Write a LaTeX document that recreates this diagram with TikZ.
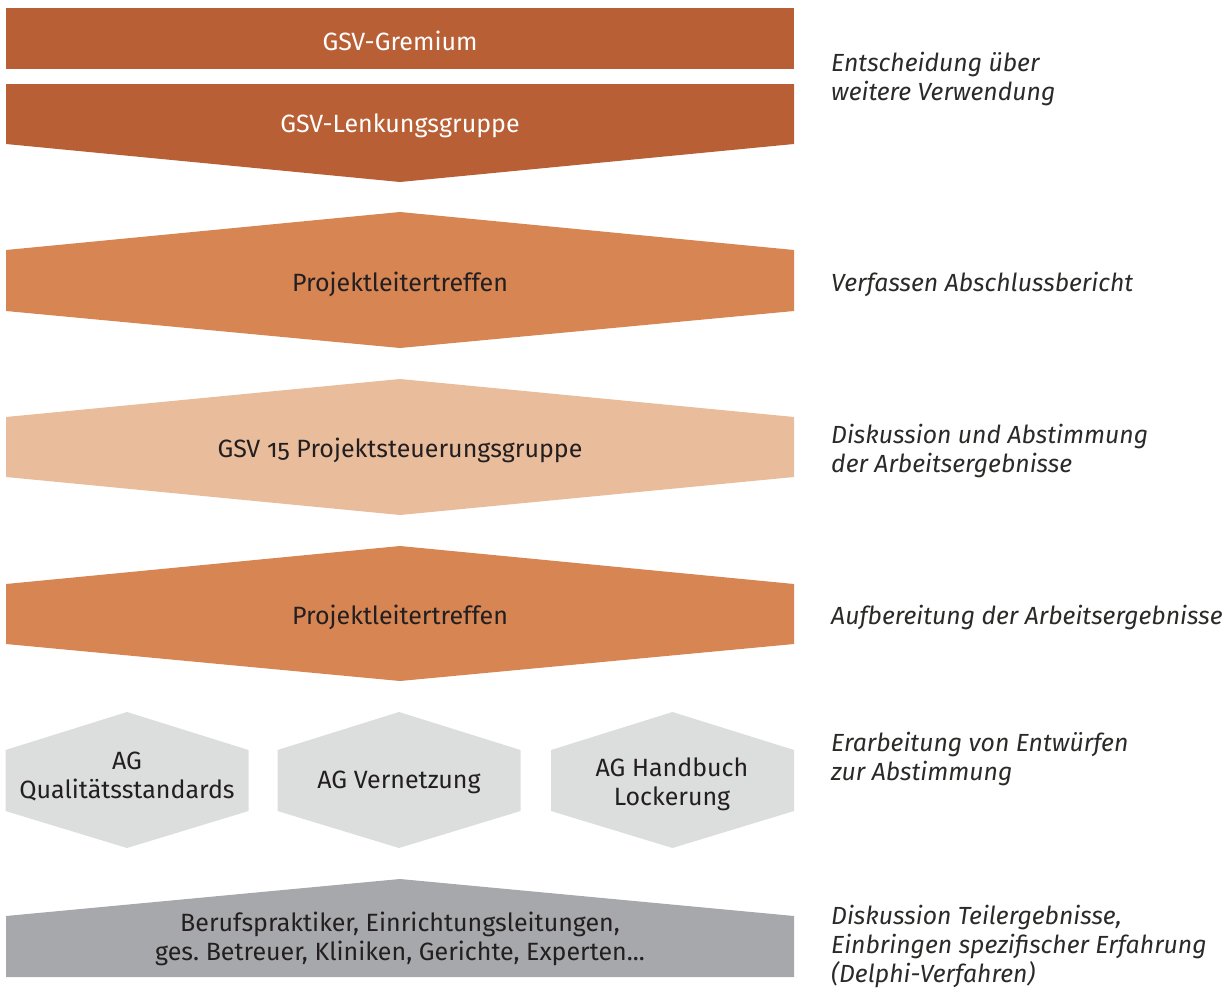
\documentclass[tikz,border=0pt]{standalone}
\usepackage{fontspec}
\setmainfont[Numbers=OldStyle]{Fira Sans}
\frenchspacing
\definecolor{cDark}{HTML}{B85F35}
\definecolor{cMid}{HTML}{D68553}
\definecolor{cLight}{HTML}{E9BC9B}
\definecolor{cHex}{HTML}{DCDDDD}
\definecolor{cGray}{HTML}{A7A8AB}
\definecolor{cText}{HTML}{231F20}
\definecolor{cNote}{HTML}{2B2A29}
\begin{document}
\begin{tikzpicture}[x=1pt,y=-1pt,
  boxtext/.style={inner sep=0pt,font=\fontsize{25}{29}\selectfont,text=cText,align=center},
  whitetext/.style={boxtext,text=white},
  note/.style={inner sep=0pt,anchor=west,font=\fontsize{24.8}{29}\selectfont\itshape,text=cNote,align=left}]
\useasboundingbox (0,0) rectangle (1232,988);
% shapes
\fill[cDark] (6,8) rectangle (794,69);
\fill[cDark] (6,84) -- (794,84) -- (794,144) -- (400,182) -- (6,144) -- cycle;
\fill[cMid] (400,212) -- (794,250) -- (794,311) -- (400,348) -- (6,311) -- (6,250) -- cycle;
\fill[cLight] (400,379) -- (794,417) -- (794,477) -- (400,515) -- (6,477) -- (6,417) -- cycle;
\fill[cMid] (400,546) -- (794,584) -- (794,644) -- (400,681) -- (6,644) -- (6,584) -- cycle;
\foreach \cx in {127,399,672.5}{
  \fill[cHex] (\cx,712) -- (\cx+121.5,750) -- (\cx+121.5,811) -- (\cx,848) -- (\cx-121.5,811) -- (\cx-121.5,750) -- cycle;
}
\fill[cGray] (400,879) -- (794,916) -- (794,977) -- (6,977) -- (6,916) -- cycle;
% box texts
\node[whitetext] (gremium) at (400,41) {GSV-Gremium};
\node[whitetext] (lenkung) at (400,126) {GSV-Lenkungsgruppe};
\node[boxtext] (plt1) at (400,284) {Projektleitertreffen};
\node[boxtext] (steuer) at (400,450) {GSV 15 Projektsteuerungsgruppe};
\node[boxtext] (plt2) at (400,617) {Projektleitertreffen};
\node[boxtext] (agq) at (127,777) {AG\\Qualitätsstandards};
\node[boxtext] (agv) at (399,782) {AG Vernetzung};
\node[boxtext] (agh) at (672,784) {AG Handbuch\\Lockerung};
\node[boxtext] (basis) at (400,939) {Berufspraktiker, Einrichtungsleitungen,\\ges. Betreuer, Kliniken, Gerichte, Experten...};
% notes
\node[note] (n1) at (831,79) {Entscheidung über\\weitere Verwendung};
\node[note] (n2) at (831,284) {Verfassen Abschlussbericht};
\node[note] (n3) at (831,451) {Diskussion und Abstimmung\\der Arbeitsergebnisse};
\node[note] (n4) at (831,617) {Aufbereitung der Arbeitsergebnisse};
\node[note] (n5) at (831,759) {Erarbeitung von Entwürfen\\zur Abstimmung};
\node[note] (n6) at (831,946) {Diskussion Teilergebnisse,\\Einbringen spezifischer Erfahrung\\(Delphi-Verfahren)};
\end{tikzpicture}
\end{document}
